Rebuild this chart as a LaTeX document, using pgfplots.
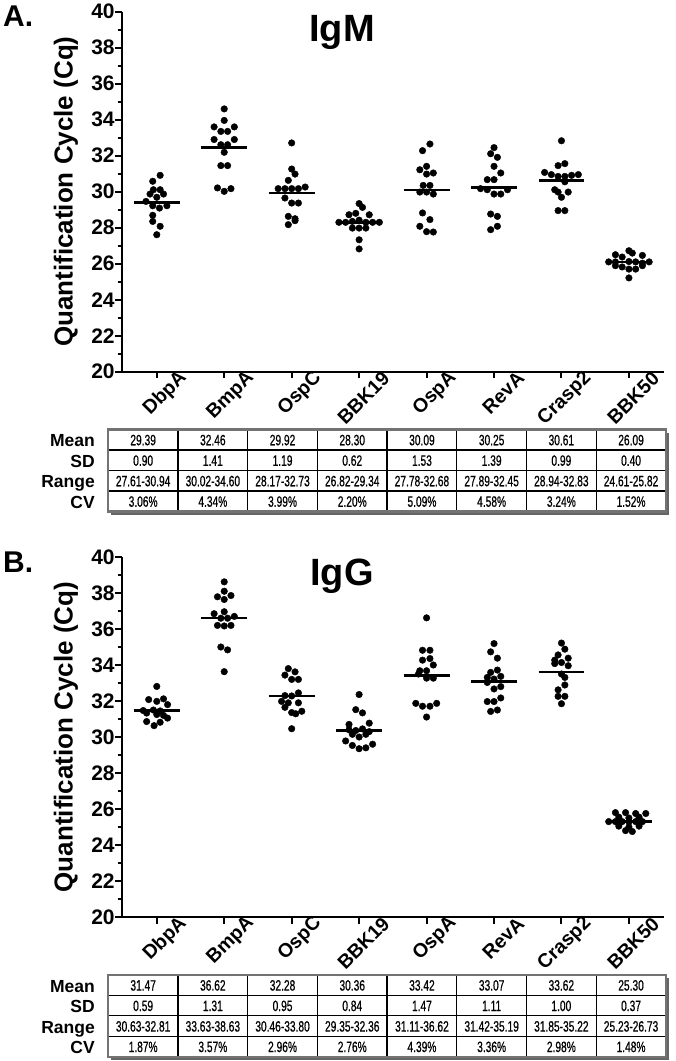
\documentclass[border=0pt]{standalone}
\usepackage{fontspec}
\setmainfont{Liberation Sans}
\newfontfamily\narrowfont{Liberation Sans}[FakeStretch=0.68, FakeBold=0.6]
\usepackage{pgfplots}
\pgfplotsset{compat=1.18}

\pgfplotsset{
  dotstyle/.style={only marks, mark=*, mark size=3.3pt, black, mark options={fill=black, draw=none}},
  meanstyle/.style={black, line width=2.6pt, forget plot},
  panel/.style={
    scale only axis, width=542.3pt, height=360pt, anchor=south west,
    xmin=-0.52, xmax=7.52, ymin=20, ymax=40,
    axis x line=bottom, axis y line=left,
    axis line style={-, line width=2.4pt, black},
    xtick={0,...,7},
    xticklabels={DbpA,BmpA,OspC,BBK19,OspA,RevA,Crasp2,BBK50},
    ytick={20,22,...,40}, minor ytick={21,23,...,39},
    tick align=outside, major tick length=6.5pt, minor tick length=4pt,
    tick style={black, line width=2pt},
    /pgf/number format/assume math mode=true,
    ticklabel style={font=\fontsize{21}{21}\selectfont\bfseries},
    yticklabel style={xshift=3pt},
    xticklabel style={font=\fontsize{19.5}{19.5}\selectfont\bfseries, xshift=27pt, yshift=3pt, rotate=45, anchor=east, inner sep=0pt},
    ylabel={Quantification Cycle (Cq)},
    ylabel style={font=\fontsize{26}{26}\selectfont\bfseries, at={(axis description cs:-0.1027,0.5)}, anchor=center},
    clip=false,
  }
}

\newcommand{\cellfont}{\narrowfont\fontsize{15}{15}\selectfont}
\newcommand{\rowfont}{\fontsize{17.5}{17.5}\selectfont\bfseries}

\newcommand{\statstable}[5]{%
  \begin{scope}[shift={(0,#1)}]
    \fill[black!60] (111.3,-3) rectangle (669,-85);
    \fill[white] (108.3,0) rectangle (666,-82);
    \foreach \k in {1,...,7} { \draw[line width=1.3pt] ({108.3+69.7*\k},0) -- ({108.3+69.7*\k},-82); }
    \foreach \r in {1,2,3} { \draw[line width=1.3pt] (108.3,{-20.5*\r}) -- (666,{-20.5*\r}); }
    \draw[line width=2.2pt, black!55] (108.3,0) rectangle (666,-82);
    \foreach \lab [count=\r from 0] in {Mean,SD,Range,CV}
      { \node[anchor=base east, font=\rowfont, inner sep=0] at (95,{-17.25-20.5*\r}) {\lab}; }
    \foreach \v [count=\c from 0] in {#2}
      { \node[anchor=base, font=\cellfont, inner sep=0] at ({143.15+69.7*\c},-15.75) {\v}; }
    \foreach \v [count=\c from 0] in {#3}
      { \node[anchor=base, font=\cellfont, inner sep=0] at ({143.15+69.7*\c},-36.25) {\v}; }
    \foreach \v [count=\c from 0] in {#4}
      { \node[anchor=base, font=\cellfont, inner sep=0] at ({143.15+69.7*\c},-56.75) {\v}; }
    \foreach \v [count=\c from 0] in {#5}
      { \node[anchor=base, font=\cellfont, inner sep=0] at ({143.15+69.7*\c},-77.25) {\v}; }
  \end{scope}%
}

\begin{document}
\begin{tikzpicture}[x=1pt,y=1pt]
\path[use as bounding box] (0,0) rectangle (676,-1061);

\statstable{-429.5}
 {29.39,32.46,29.92,28.30,30.09,30.25,30.61,26.09}
 {0.90,1.41,1.19,0.62,1.53,1.39,0.99,0.40}
 {27.61-30.94,30.02-34.60,28.17-32.73,26.82-29.34,27.78-32.68,27.89-32.45,28.94-32.83,24.61-25.82}
 {3.06\%,4.34\%,3.99\%,2.20\%,5.09\%,4.58\%,3.24\%,1.52\%}
\statstable{-974.8}
 {31.47,36.62,32.28,30.36,33.42,33.07,33.62,25.30}
 {0.59,1.31,0.95,0.84,1.47,1.11,1.00,0.37}
 {30.63-32.81,33.63-38.63,30.46-33.80,29.35-32.36,31.11-36.62,31.42-35.19,31.85-35.22,25.23-26.73}
 {1.87\%,3.57\%,2.96\%,2.76\%,4.39\%,3.36\%,2.98\%,1.48\%}

% ================= Panel A : IgM =================
\begin{axis}[panel, at={(121.7pt,-371.7pt)}]
\addplot[dotstyle] coordinates {
 (0.05,30.91) (-0.06,30.58) (-0.05,30.11) (0.05,30.11) (-0.10,29.87) (0.10,29.87)
 (0,29.69) (-0.16,29.46) (-0.06,29.22) (0.15,29.22) (0.04,29.09) (-0.06,28.69)
 (-0.06,28.35) (0.05,28.08) (0,27.61)
 (1,34.60) (1,33.96) (0.85,33.6) (1.15,33.6) (0.95,33.35) (1.05,33.35) (0.85,32.9)
 (1.15,32.9) (0.95,32.61) (1.05,32.61) (1,32.19) (0.95,31.45) (1.05,31.45) (0.9,30.21)
 (1,30.02) (1.1,30.17)
 (2,32.71) (2,31.26) (2.05,30.98) (1.95,30.63) (1.8,30.17) (1.9,30.17) (2,30.17)
 (2.1,30.17) (2.2,30.26) (1.9,29.65) (2,29.37) (2.1,29.37) (1.95,28.63) (2.05,28.5)
 (2.05,28.39) (1.95,28.17)
 (3,29.34) (3.05,29.13) (2.85,28.72) (2.95,28.8) (3.15,28.72) (3.0,28.42) (2.7,28.3)
 (2.8,28.3) (2.9,28.35) (3.1,28.3) (3.2,28.3) (3.3,28.3) (2.9,27.98) (3,27.98)
 (3.1,27.98) (3,27.33) (3,26.82)
 (4.05,32.65) (3.94,32.28) (4,31.41) (3.9,31.22) (4,30.98) (4.1,31.04) (3.95,30.35)
 (4.05,30.35) (3.9,29.98) (4,29.98) (4.1,29.87) (3.94,28.82) (4.05,28.45) (3.9,28.08)
 (4,27.78) (4.1,27.76)
 (5,32.45) (4.95,32.11) (5.05,31.91) (5,31.41) (5.1,31.04) (4.9,30.67) (5,30.67)
 (4.8,30.17) (4.9,30.11) (5,29.87) (5.1,29.87) (5.2,30.11) (4.95,28.76) (5.05,28.63)
 (5.05,28.08) (4.95,27.89)
 (6,32.83) (5.95,31.45) (6.05,31.56) (5.75,31.07) (5.85,30.95) (5.95,30.85) (6.05,30.85)
 (6.15,30.91) (6.25,30.95) (6.05,30.55) (5.9,30.11) (5.95,29.98) (6.1,29.98) (6,29.69)
 (5.95,28.95) (6.05,28.95)
 (7,26.72) (6.8,26.5) (6.9,26.37) (7.05,26.59) (7.2,26.46) (6.7,26.1) (6.8,26.1)
 (7,26.12) (7.1,26.1) (7.2,26.03) (7.3,26.1) (6.8,25.89) (6.9,25.82) (7,25.7)
 (7.1,25.7) (7.2,25.89) (7,25.21)
};
\addplot[meanstyle] coordinates {(-0.34,29.39) (0.34,29.39)};
\addplot[meanstyle] coordinates {(0.66,32.46) (1.34,32.46)};
\addplot[meanstyle] coordinates {(1.66,29.92) (2.34,29.92)};
\addplot[meanstyle] coordinates {(2.66,28.30) (3.34,28.30)};
\addplot[meanstyle] coordinates {(3.66,30.09) (4.34,30.09)};
\addplot[meanstyle] coordinates {(4.66,30.25) (5.34,30.25)};
\addplot[meanstyle] coordinates {(5.66,30.61) (6.34,30.61)};
\addplot[meanstyle] coordinates {(6.66,26.09) (7.34,26.09)};
\end{axis}
\node[anchor=base west, font=\fontsize{30}{30}\selectfont\bfseries, inner sep=0] at (3,-26.7) {A.};
\node[anchor=base, font=\fontsize{38}{38}\selectfont\bfseries, inner sep=0] at (342,-41) {IgM};

% ================= Panel B : IgG =================
\begin{axis}[panel, at={(121.7pt,-917pt)}]
\addplot[dotstyle] coordinates {
 (0,32.81) (-0.12,32.08) (0,31.98) (0.1,32.12) (0.16,31.8) (-0.2,31.47) (-0.05,31.5)
 (0.05,31.45) (-0.15,31.33) (0,31.25) (0.1,31.2) (0.16,31.05) (-0.15,30.86) (0.05,30.82)
 (-0.04,30.63)
 (1,38.62) (1,38.1) (0.9,37.79) (1.1,37.86) (1,37.64) (0.85,36.85) (1,36.96) (1.15,36.7)
 (0.95,36.6) (1.05,36.6) (0.9,36.2) (1,36.17) (1.1,36.2) (0.95,35.0) (1.05,34.84)
 (1,33.63)
 (1.95,33.8) (2.05,33.62) (1.9,33.44) (2,33.2) (2.1,33.2) (1.9,32.3) (2,32.28) (2.1,32.45)
 (1.85,31.98) (1.95,31.9) (2.1,31.9) (1.9,31.65) (2,31.36) (2.06,31.29) (2.15,31.43)
 (2,30.46)
 (3,32.36) (2.95,31.52) (3.05,31.34) (2.85,30.7) (3.15,30.77) (2.85,30.4) (2.95,30.36)
 (3.05,30.45) (3.15,30.3) (2.9,30.15) (3,30.0) (3.1,30.15) (2.8,29.78) (2.9,29.53)
 (3,29.35) (3.1,29.4) (3.2,29.6)
 (4,36.62) (3.94,34.82) (4.05,34.82) (3.94,34.27) (4.05,34.36) (4.1,34.0) (3.9,33.68)
 (4,33.68) (3.88,33.5) (4,33.27) (4.1,33.27) (3.84,31.87) (3.94,31.71) (4.05,31.71)
 (4.15,31.87) (4,31.11)
 (5,35.19) (4.95,34.73) (5.05,34.38) (4.95,33.59) (5.05,33.72) (4.9,33.31) (5,33.22)
 (5.1,33.37) (4.9,33.03) (5.1,32.8) (5,32.67) (5.1,32.17) (5,31.97) (4.9,31.97)
 (4.95,31.42) (5.05,31.5)
 (6,35.22) (6.05,34.88) (5.95,34.56) (6.1,34.38) (5.9,34.27) (5.9,34.08) (6,34.14)
 (6.1,33.96) (6,33.5) (6.05,33.31) (6.05,32.89) (5.95,32.62) (5.95,32.26) (6.05,32.26)
 (6,31.85)
 (6.8,25.8) (6.95,25.8) (7.1,25.75) (7.25,25.75) (6.85,25.55) (7,25.5) (7.15,25.55)
 (6.7,25.3) (6.8,25.3) (6.9,25.3) (7,25.28) (7.1,25.3) (7.2,25.3) (6.85,25.05)
 (7,25.0) (7.15,25.05) (6.95,24.8) (7.05,24.75)
};
\addplot[meanstyle] coordinates {(-0.34,31.47) (0.34,31.47)};
\addplot[meanstyle] coordinates {(0.66,36.62) (1.34,36.62)};
\addplot[meanstyle] coordinates {(1.66,32.28) (2.34,32.28)};
\addplot[meanstyle] coordinates {(2.66,30.36) (3.34,30.36)};
\addplot[meanstyle] coordinates {(3.66,33.42) (4.34,33.42)};
\addplot[meanstyle] coordinates {(4.66,33.07) (5.34,33.07)};
\addplot[meanstyle] coordinates {(5.66,33.62) (6.34,33.62)};
\addplot[meanstyle] coordinates {(6.66,25.30) (7.34,25.30)};
\end{axis}
\node[anchor=base west, font=\fontsize{30}{30}\selectfont\bfseries, inner sep=0] at (3,-572.3) {B.};
\node[anchor=base, font=\fontsize{38}{38}\selectfont\bfseries, inner sep=0] at (342,-585) {IgG};
\end{tikzpicture}
\end{document}
